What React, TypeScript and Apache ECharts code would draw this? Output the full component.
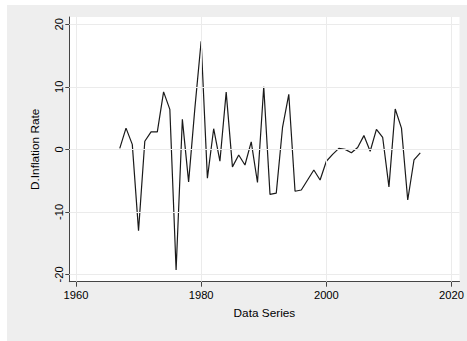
import React, { useEffect, useRef } from "react";
import * as echarts from "echarts";

const years = [
  1967, 1968, 1969, 1970, 1971, 1972, 1973, 1974, 1975, 1976,
  1977, 1978, 1979, 1980, 1981, 1982, 1983, 1984, 1985, 1986,
  1987, 1988, 1989, 1990, 1991, 1992, 1993, 1994, 1995, 1996,
  1997, 1998, 1999, 2000, 2001, 2002, 2003, 2004, 2005, 2006,
  2007, 2008, 2009, 2010, 2011, 2012, 2013, 2014, 2015,
];
const inflationDiff = [
  0.15, 3.4, 0.8, -13.0, 1.3, 2.8, 2.8, 9.2, 6.4, -19.3,
  4.8, -5.2, 6.6, 17.3, -4.6, 3.3, -1.9, 9.15, -2.8, -0.9,
  -2.5, 1.2, -5.3, 10.0, -7.2, -7.0, 3.5, 8.8, -6.7, -6.5,
  -4.9, -3.3, -4.9, -1.9, -0.8, 0.15, 0.0, -0.55, 0.3, 2.2,
  -0.3, 3.2, 1.9, -6.0, 6.45, 3.4, -8.1, -1.7, -0.55,
];
const xTicks = [1960, 1980, 2000, 2020];
const yTicks = [-20, -10, 0, 10, 20];

const FONT = "'Liberation Sans', Arial, Helvetica, sans-serif";

export default function App() {
  const ref = useRef<HTMLDivElement>(null);
  useEffect(() => {
    if (!ref.current) return;
    const chart = echarts.init(ref.current, null, { renderer: "svg" });
    const gridLineStyle = { color: "#ebebeb", width: 1, type: "solid" as const };
    chart.setOption({
      animation: false,
      backgroundColor: "transparent",
      grid: {
        left: 62.3,
        right: 5.3,
        top: 12,
        bottom: 59.3,
        show: true,
        backgroundColor: "#ffffff",
        borderWidth: 0,
      },
      xAxis: {
        type: "value",
        min: 1958.94,
        max: 2021.27,
        name: "Data Series",
        nameLocation: "middle",
        nameGap: 25,
        nameTextStyle: { fontFamily: FONT, fontSize: 11.8, color: "#000" },
        axisLine: { show: true, onZero: false, lineStyle: { color: "#444", width: 1 } },
        axisTick: { show: true, length: 5, customValues: xTicks, lineStyle: { color: "#444" } },
        axisLabel: {
          customValues: xTicks,
          formatter: (v: number) => String(Math.round(v)),
          margin: 8,
          fontFamily: FONT,
          fontSize: 11.2,
          color: "#000",
        },
        splitLine: { show: false },
      },
      yAxis: {
        type: "value",
        min: -21.17,
        max: 21.17,
        name: "D.Inflation Rate",
        nameLocation: "middle",
        nameRotate: 90,
        nameGap: 28,
        nameTextStyle: { fontFamily: FONT, fontSize: 11.8, color: "#000" },
        axisLine: { show: true, onZero: false, lineStyle: { color: "#444", width: 1 } },
        axisTick: { show: true, length: 4, customValues: yTicks, lineStyle: { color: "#444" } },
        axisLabel: {
          customValues: yTicks,
          formatter: (v: number) => String(Math.round(v)),
          rotate: 90,
          margin: 5,
          fontFamily: FONT,
          fontSize: 11.2,
          color: "#000",
        },
        splitLine: { show: false },
      },
      series: [
        {
          type: "line",
          data: [],
          z: 1,
          silent: true,
          markLine: {
            silent: true,
            symbol: "none",
            label: { show: false },
            lineStyle: gridLineStyle,
            data: [
              ...xTicks.map((v) => ({ xAxis: v })),
              ...yTicks.map((v) => ({ yAxis: v })),
            ],
          },
        },
        {
          type: "line",
          z: 3,
          data: years.map((y, i) => [y, inflationDiff[i]]),
          showSymbol: false,
          symbol: "none",
          lineStyle: { color: "#1a1a1a", width: 1.2 },
        },
      ],
    });
    return () => chart.dispose();
  }, []);
  return (
    <div
      style={{
        position: "absolute",
        left: 0,
        top: 0,
        width: 467,
        height: 341,
        background: "#ffffff",
      }}
    >
      <div
        ref={ref}
        style={{
          position: "absolute",
          left: 7,
          top: 5,
          width: 460,
          height: 336,
          background: "#eeeeee",
        }}
      />
    </div>
  );
}
